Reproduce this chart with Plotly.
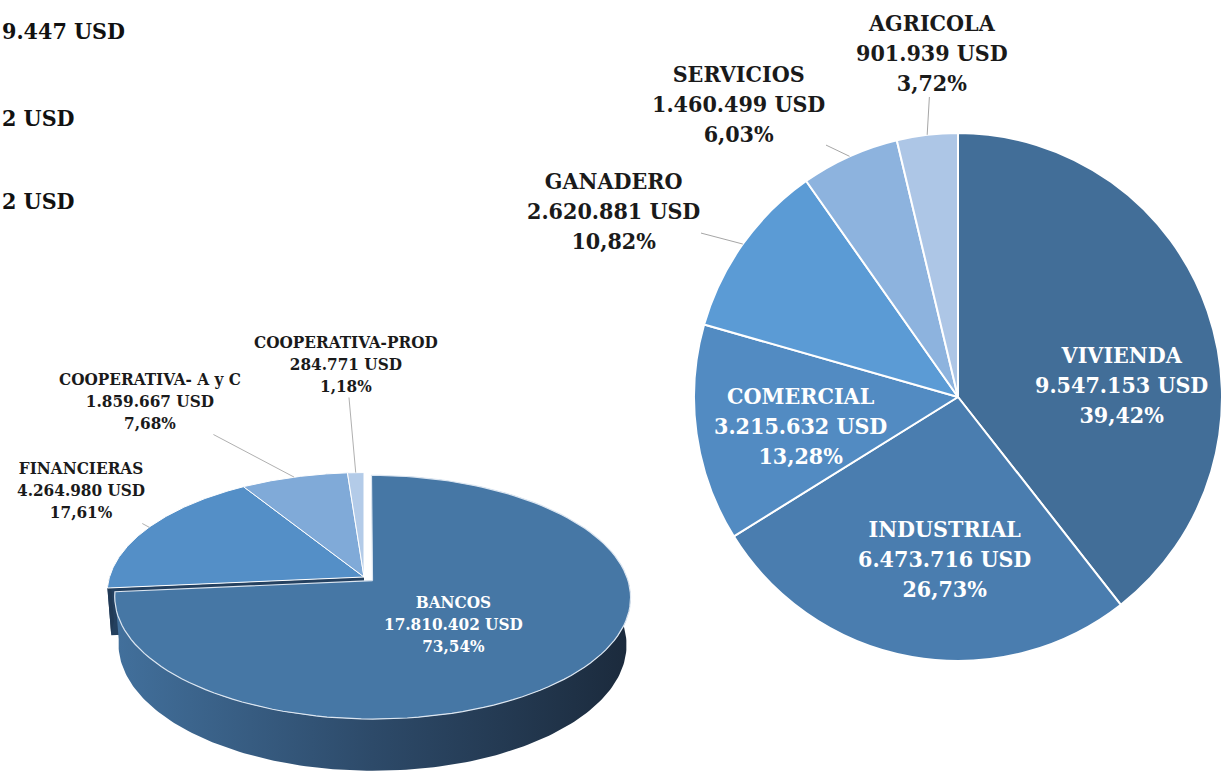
import numpy as np
import plotly.graph_objects as go

# Left chart: loans by type of institution
bank_labels = ["BANCOS", "FINANCIERAS", "COOPERATIVA- A y C", "COOPERATIVA-PROD"]
bank_values = [17810402, 4264980, 1859667, 284771]
bank_colors = ["#4677a5", "#548fc7", "#80aad8", "#b3cbe8"]

# Right chart: loans by sector
sector_labels = ["VIVIENDA", "INDUSTRIAL", "COMERCIAL", "GANADERO", "SERVICIOS", "AGRICOLA"]
sector_values = [9547153, 6473716, 3215632, 2620881, 1460499, 901939]
sector_colors = ["#426e98", "#4a7daf", "#528bc2", "#5b9bd5", "#8db3de", "#adc6e6"]

# cropped totals at the top left
top_texts = ["9.447 USD", "2 USD", "2 USD"]

W, HGT = 1222, 774
FONT = "DejaVu Serif Condensed, DejaVu Serif, serif"


def usd(v):
    return f"{v:,}".replace(",", ".") + " USD"


def pct(v, tot):
    return f"{100 * v / tot:.2f}".replace(".", ",") + "%"


def label_text(name, v, tot):
    return f"<b>{name}</b><br><b>{usd(v)}</b><br><b>{pct(v, tot)}</b>"


# ---- 3D pie projection (left) ----
CX, CY = 364, 577
R = 0.1533
SINP, COSP = 0.466, 0.885
F = 1660
DEPTH = 0.0323
EXPLODE = 0.045


def proj(theta, rr=1.0, h=0.0, shift=(0.0, 0.0)):
    th = np.radians(theta)
    X = R * rr * np.sin(th) + shift[0]
    Z = R * rr * np.cos(th) + shift[1]
    zc = 1 + Z * COSP + h * SINP
    yc = Z * SINP - h * COSP
    return CX + F * X / zc, CY - F * yc / zc


bank_tot = sum(bank_values)
bank_edges = np.concatenate([[0], np.cumsum(bank_values) / bank_tot]) * 360
bank_mid = (bank_edges[:-1] + bank_edges[1:]) / 2

shifts = []
for i in range(len(bank_values)):
    if i == 0:
        m = np.radians(bank_mid[0])
        shifts.append((EXPLODE * R * np.sin(m), EXPLODE * R * np.cos(m)))
    else:
        shifts.append((0.0, 0.0))

fig = go.Figure()


def add_poly(xs, ys, color=None, line_color=None, line_width=0, gradient=None):
    kw = dict(x=xs, y=ys, mode="lines", fill="toself", hoverinfo="skip", showlegend=False,
              line=dict(color=line_color or "rgba(0,0,0,0)", width=line_width))
    if gradient is not None:
        kw["fillgradient"] = gradient
    else:
        kw["fillcolor"] = color
    fig.add_trace(go.Scatter(**kw))


# cut face of FINANCIERAS (seen through the explode gap)
a = bank_edges[1]
p = [proj(a, 0, 0), proj(a, 1, 0), proj(a, 1, DEPTH), proj(a, 0, DEPTH)]
add_poly([q[0] for q in p], [q[1] for q in p], color="#24405f")

# side wall of FINANCIERAS (thin strip on the left)
th = np.linspace(bank_edges[1], 271, 20)
tx, ty = proj(th, 1, 0)
bx, by = proj(th, 1, DEPTH)
add_poly(np.concatenate([tx, bx[::-1]]), np.concatenate([ty, by[::-1]]), color="#213a56")

# side wall of BANCOS
th = np.linspace(88, bank_edges[1], 160)
tx, ty = proj(th, 1, 0, shifts[0])
bx, by = proj(th, 1, DEPTH, shifts[0])
add_poly(np.concatenate([tx, bx[::-1]]), np.concatenate([ty, by[::-1]]),
         gradient=dict(type="horizontal",
                       colorscale=[[0, "#42709c"], [0.5, "#2d4a69"], [1, "#1b2a3c"]]))

# top faces
for i in [1, 2, 3, 0]:
    th = np.linspace(bank_edges[i], bank_edges[i + 1], 120)
    ax_, ay_ = proj(th, 1, 0, shifts[i])
    c = proj(0, 0, 0, shifts[i])
    xs = np.concatenate([[c[0]], ax_, [c[0]]])
    ys = np.concatenate([[c[1]], ay_, [c[1]]])
    if i == 0:
        add_poly(xs, ys, color=bank_colors[i], line_color="#dce6f1", line_width=1.2)
    else:
        add_poly(xs, ys, color=bank_colors[i], line_color="white", line_width=1)

# ---- flat pie (right) ----
PCX, PCY, PR = 958, 397, 264
fig.add_trace(go.Pie(
    values=sector_values, labels=sector_labels, sort=False, direction="clockwise", rotation=0,
    marker=dict(colors=sector_colors, line=dict(color="white", width=2)),
    textinfo="none", hoverinfo="skip", showlegend=False,
    domain=dict(x=[(PCX - PR) / W, min(1, (PCX + PR) / W)],
                y=[1 - (PCY + PR) / HGT, 1 - (PCY - PR) / HGT]),
))

sec_tot = sum(sector_values)
sec_edges = np.concatenate([[0], np.cumsum(sector_values) / sec_tot]) * 360
sec_mid = np.radians((sec_edges[:-1] + sec_edges[1:]) / 2)

# label positions
sector_label_pos = [(1121, 384), (944, 558), (800, 425), (613, 210), (738, 103), (932, 52)]
bank_label_pos = [(453, 624), (81, 490), (150, 401), (346, 364)]

annotations = []
for i, name in enumerate(sector_labels):
    lx, ly = sector_label_pos[i]
    inside = i < 3
    ann = dict(text=label_text(name, sector_values[i], sec_tot), xref="x", yref="y",
               font=dict(family=FONT, size=23, color="white" if inside else "#1a1a1a"),
               align="center")
    if inside:
        ann.update(x=lx, y=ly, showarrow=False)
    else:
        ex = PCX + PR * np.sin(sec_mid[i])
        ey = PCY - PR * np.cos(sec_mid[i])
        ann.update(x=ex, y=ey, ax=lx, ay=ly, axref="x", ayref="y", showarrow=True,
                   arrowhead=0, arrowwidth=1, arrowcolor="#a6a6a6", standoff=0)
    annotations.append(ann)

for i, name in enumerate(bank_labels):
    lx, ly = bank_label_pos[i]
    inside = i == 0
    ann = dict(text=label_text(name, bank_values[i], bank_tot), xref="x", yref="y",
               font=dict(family=FONT, size=17, color="white" if inside else "#1a1a1a"),
               align="center")
    if inside:
        ann.update(x=lx, y=ly, showarrow=False)
    else:
        ex, ey = proj(bank_mid[i], 1, 0, shifts[i])
        ann.update(x=float(ex), y=float(ey), ax=lx, ay=ly, axref="x", ayref="y", showarrow=True,
                   arrowhead=0, arrowwidth=1, arrowcolor="#b0b0b0", standoff=0)
    annotations.append(ann)

for t, yy in zip(top_texts, [30, 117, 200]):
    annotations.append(dict(text=f"<b>{t}</b>", x=0, xref="paper", xanchor="left",
                            y=yy, yref="y", showarrow=False,
                            font=dict(family=FONT, size=23, color="#111111")))

fig.update_layout(
    width=W, height=HGT,
    margin=dict(l=0, r=0, t=0, b=0),
    paper_bgcolor="white", plot_bgcolor="white",
    xaxis=dict(range=[0, W], visible=False, fixedrange=True),
    yaxis=dict(range=[HGT, 0], visible=False, fixedrange=True),
    annotations=annotations,
)

fig.write_html("out.html", config={"displayModeBar": False},
               post_script="document.body.style.margin='0';document.body.style.overflow='hidden';")
